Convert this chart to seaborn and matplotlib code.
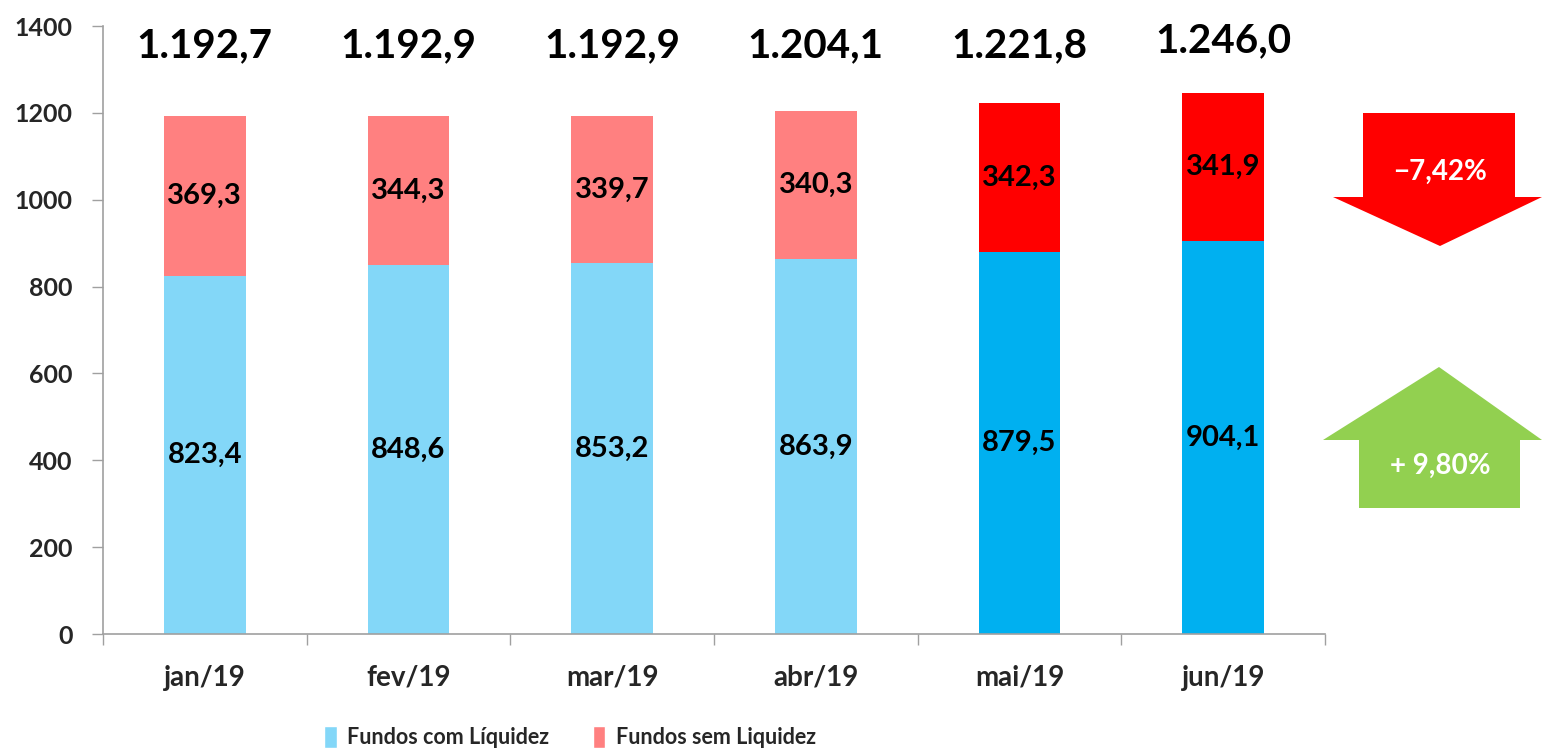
import numpy as np
import pandas as pd
import matplotlib
matplotlib.use('Agg')
import matplotlib.pyplot as plt
from matplotlib.patches import Patch, Polygon
from matplotlib.ticker import FixedLocator
import seaborn as sns

# data
months = ['jan/19', 'fev/19', 'mar/19', 'abr/19', 'mai/19', 'jun/19']
com_liquidez = [823.4, 848.6, 853.2, 863.9, 879.5, 904.1]
sem_liquidez = [369.3, 344.3, 339.7, 340.3, 342.3, 341.9]
totals = [1192.7, 1192.9, 1192.9, 1204.1, 1221.8, 1246.0]
change_sem = '−7,42%'
change_com = '+ 9,80%'

com_colors = ['#83D7F8'] * 4 + ['#00B0F0'] * 2
sem_colors = ['#FF8080'] * 4 + ['#FF0000'] * 2

df = pd.DataFrame({'month': months, 'com': com_liquidez, 'sem': sem_liquidez})
df['stack'] = df['com'] + df['sem']


def br(v, dec=1):
    s = f'{v:,.{dec}f}'
    return s.replace(',', 'X').replace('.', ',').replace('X', '.')


sns.set_style('white')
plt.rcParams['font.family'] = ['Lato', 'DejaVu Sans']
plt.rcParams['font.weight'] = 'bold'

W, H = 1542, 753
fig = plt.figure(figsize=(W / 100, H / 100), dpi=100)
ax = fig.add_axes([103 / W, 1 - 634 / H, (1325 - 103) / W, (634 - 26) / H])

# stacked: full height in "sem" colour, then "com" part drawn over it
sns.barplot(data=df, x='month', y='stack', hue='month', palette=sem_colors,
            width=0.4, legend=False, ax=ax, saturation=1, linewidth=0)
sns.barplot(data=df, x='month', y='com', hue='month', palette=com_colors,
            width=0.4, legend=False, ax=ax, saturation=1, linewidth=0)

for i in range(len(months)):
    ax.text(i, com_liquidez[i] / 2, br(com_liquidez[i]), ha='center', va='center',
            fontsize=21, fontweight='bold', color='black')
    ax.text(i, com_liquidez[i] + sem_liquidez[i] / 2, br(sem_liquidez[i]), ha='center',
            va='center', fontsize=21, fontweight='bold', color='black')
    ax.text(i, 1355 + (12 if i == 5 else 0), br(totals[i]), ha='center', va='center',
            fontsize=29, fontweight='bold', color='black')

ax.set_xlim(-0.5, len(months) - 0.5)
ax.set_ylim(0, 1400)
ax.set_yticks(np.arange(0, 1401, 200))
ax.set_xlabel('')
ax.set_ylabel('')
ax.tick_params(axis='y', labelsize=18, length=8, width=1, color='#A0A0A0', pad=14, left=True)
ax.tick_params(axis='x', which='major', labelsize=20, length=0, pad=22)
ax.xaxis.set_minor_locator(FixedLocator(np.arange(-0.5, len(months), 1)))
ax.tick_params(axis='x', which='minor', length=8, width=1, color='#A0A0A0', bottom=True)
for lab in ax.get_xticklabels() + ax.get_yticklabels():
    lab.set_fontweight('bold')
for s in ['top', 'right']:
    ax.spines[s].set_visible(False)
for s in ['left', 'bottom']:
    ax.spines[s].set_color('#A0A0A0')
    ax.spines[s].set_linewidth(1.2)


def px(pts):
    return [(x / W, 1 - y / H) for x, y in pts]


down = px([(1363, 113), (1515, 113), (1515, 197), (1542, 197), (1440, 246),
           (1333, 197), (1363, 197)])
up = px([(1439, 367), (1542, 440), (1520, 440), (1520, 508), (1359, 508),
         (1359, 440), (1323, 440)])
fig.patches.append(Polygon(down, closed=True, transform=fig.transFigure,
                           facecolor='#FF0000', edgecolor='none'))
fig.patches.append(Polygon(up, closed=True, transform=fig.transFigure,
                           facecolor='#92D050', edgecolor='none'))
fig.text(1440 / W, 1 - 172 / H, change_sem, ha='center', va='center', color='white',
         fontsize=20, fontweight='bold')
fig.text(1440 / W, 1 - 466 / H, change_com, ha='center', va='center', color='white',
         fontsize=20, fontweight='bold')

handles = [Patch(facecolor=com_colors[0], label='Fundos com Líquidez'),
           Patch(facecolor=sem_colors[0], label='Fundos sem Liquidez')]
fig.legend(handles=handles, loc='center', bbox_to_anchor=(570 / W, 1 - 737 / H), ncol=2,
           frameon=False, handlelength=0.6, handleheight=1.2,
           handletextpad=0.5, columnspacing=2.0, prop={'weight': 'bold', 'size': 15.5})

fig.savefig('out.png', dpi=100)
